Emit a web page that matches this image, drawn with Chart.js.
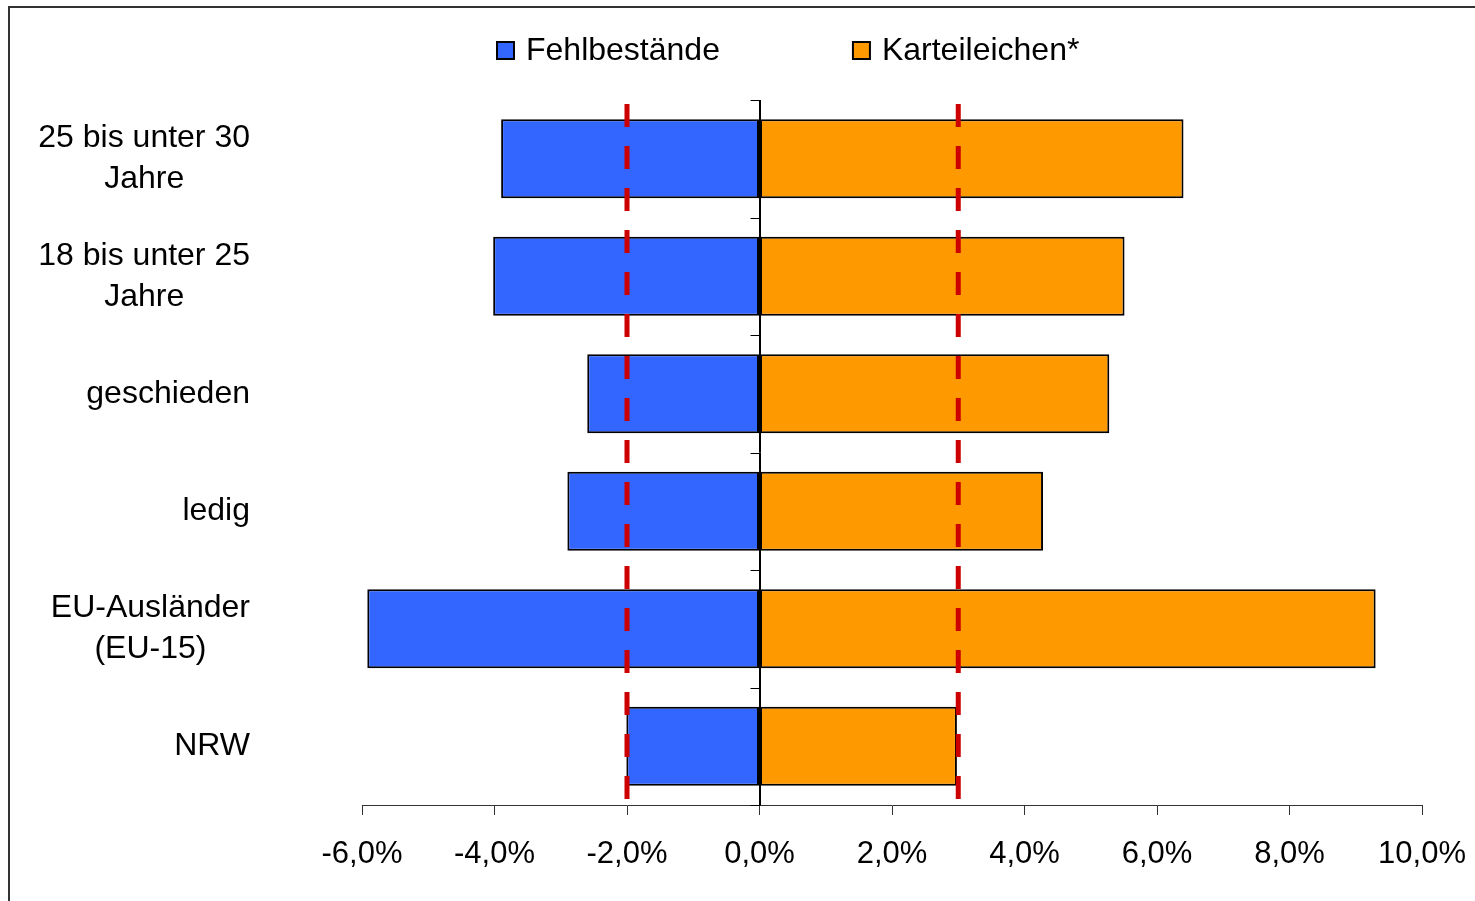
<!DOCTYPE html>
<html><head><meta charset="utf-8">
<script src="https://cdn.jsdelivr.net/npm/chart.js@4.4.1/dist/chart.umd.min.js"></script>
<style>html,body{margin:0;padding:0;background:#fff;} #wrap{width:1475px;height:901px;position:relative;}</style>
</head><body><div id="wrap"><canvas id="c"></canvas></div>
<script>
const categories = [["25 bis unter 30","Jahre"],["18 bis unter 25","Jahre"],["geschieden"],["ledig"],["EU-Ausländer","(EU-15)"],["NRW"]];
const seriesNames = ["Fehlbestände","Karteileichen*"];
const fehlbestaende = [-3.90,-4.02,-2.60,-2.90,-5.92,-2.01];
const karteileichen = [6.40,5.51,5.28,4.28,9.30,2.98];
const referenceLines = [-2,3];
const xMin = -6, xMax = 10, xStep = 2;

const FONT = "'Liberation Sans', Arial, sans-serif";
const COLORS = ["#3366FF","#FF9900"];

const deco = {
  id:'deco',
  beforeDraw(chart){
    const ctx = chart.ctx;
    ctx.save();
    ctx.fillStyle = '#fff';
    ctx.fillRect(0,0,chart.width,chart.height);
    ctx.strokeStyle = '#333';
    ctx.lineWidth = 2;
    ctx.beginPath();
    ctx.moveTo(9, chart.height + 2);
    ctx.lineTo(9, 7);
    ctx.lineTo(chart.width + 2, 7);
    ctx.stroke();
    ctx.restore();
  },
  afterDatasetsDraw(chart){
    const ctx = chart.ctx, xs = chart.scales.x, a = chart.chartArea;
    ctx.save();
    const x0 = Math.round(xs.getPixelForValue(0)) + 0.5;
    ctx.strokeStyle = '#000';
    ctx.lineWidth = 1;
    const n = categories.length;
    for (let i = 0; i <= n; i++) {
      const y = Math.round(a.top + i * (a.bottom - a.top) / n) + 0.5;
      ctx.beginPath(); ctx.moveTo(x0 - 10, y); ctx.lineTo(x0, y); ctx.stroke();
    }
    ctx.beginPath(); ctx.moveTo(x0, a.top); ctx.lineTo(x0, a.bottom); ctx.stroke();
    ctx.strokeStyle = '#CC0000';
    ctx.lineWidth = 5;
    ctx.setLineDash([23,19]);
    referenceLines.forEach(v => {
      const x = xs.getPixelForValue(v);
      ctx.beginPath(); ctx.moveTo(x, a.top + 4); ctx.lineTo(x, a.bottom - 5); ctx.stroke();
    });
    ctx.restore();
  },
  afterDraw(chart){
    const ctx = chart.ctx, ys = chart.scales.y;
    ctx.save();
    ctx.font = "32px " + FONT;
    ctx.fillStyle = '#000';
    ctx.textBaseline = 'middle';
    ctx.textAlign = 'center';
    const rightEdge = 250, lh = 41;
    categories.forEach((lines, i) => {
      const yc = ys.getPixelForValue(i);
      const w = Math.max(...lines.map(l => ctx.measureText(l).width));
      const cx = rightEdge - w / 2;
      const y0 = yc - (lines.length - 1) * lh / 2;
      lines.forEach((l, j) => ctx.fillText(l, cx, y0 + j * lh));
    });
    ctx.textAlign = 'left';
    let x = 497;
    const yl = 51;
    seriesNames.forEach((name, i) => {
      ctx.fillStyle = COLORS[i];
      ctx.fillRect(x, yl - 9, 17, 17);
      ctx.strokeStyle = '#000';
      ctx.lineWidth = 2;
      ctx.strokeRect(x, yl - 9, 17, 17);
      ctx.fillStyle = '#000';
      ctx.fillText(name, x + 29, yl);
      x = x + 29 + ctx.measureText(name).width + 133;
    });
    ctx.restore();
  }
};

new Chart(document.getElementById('c'), {
  type: 'bar',
  data: {
    labels: categories,
    datasets: [
      { label: seriesNames[0], data: fehlbestaende, backgroundColor: COLORS[0], borderColor: '#000', borderWidth: 2, borderSkipped: false },
      { label: seriesNames[1], data: karteileichen, backgroundColor: COLORS[1], borderColor: '#000', borderWidth: 2, borderSkipped: false }
    ]
  },
  options: {
    indexAxis: 'y',
    responsive: true,
    maintainAspectRatio: false,
    animation: false,
    devicePixelRatio: 1,
    layout: { padding: { top: 100, right: 53, left: 0, bottom: 0 } },
    datasets: { bar: { categoryPercentage: 1, barPercentage: 0.672 } },
    plugins: { legend: { display: false }, tooltip: { enabled: false } },
    scales: {
      x: {
        stacked: true,
        min: xMin, max: xMax,
        ticks: {
          stepSize: xStep,
          color: '#000',
          font: { family: FONT, size: 31 },
          padding: 21,
          maxRotation: 0,
          callback: v => v.toFixed(1).replace('.', ',') + '%'
        },
        grid: {
          color: c => (c.tick && c.tick.value === 0) ? '#000' : 'rgba(0,0,0,0)',
          tickColor: '#333',
          tickLength: 10,
          lineWidth: 1
        },
        border: { display: true, color: '#333', width: 1 },
        afterFit: s => { s.height = 96; s.paddingLeft = 0; s.paddingRight = 0; }
      },
      y: {
        stacked: true,
        ticks: { display: false },
        grid: { display: false },
        border: { display: false },
        afterFit: s => { s.width = 362; }
      }
    }
  },
  plugins: [deco]
});
</script>
</body></html>
